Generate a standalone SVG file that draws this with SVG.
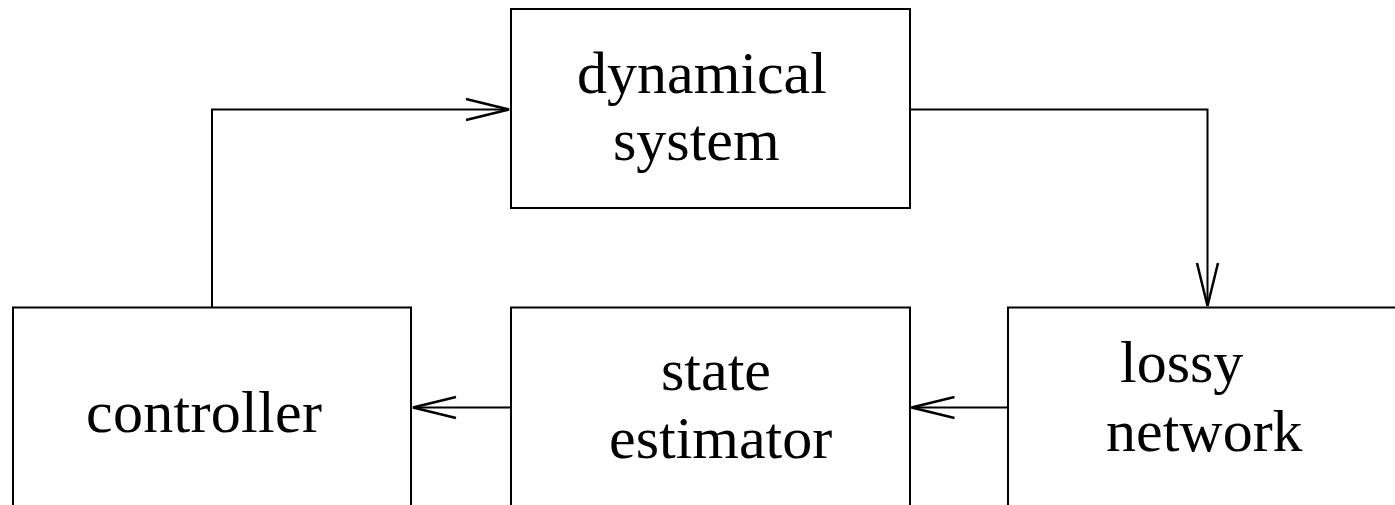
<svg xmlns="http://www.w3.org/2000/svg" width="1395" height="505" viewBox="0 0 1395 505">
<defs>
<style>
.box{fill:#fff;stroke:#000;stroke-width:2}
.conn{fill:none;stroke:#000;stroke-width:2}
.lbl{font-family:"Liberation Serif","Times New Roman",serif;font-size:60px;fill:#000}
</style>
<marker id="arr" markerUnits="userSpaceOnUse" orient="auto" refX="0" refY="0" markerWidth="50" markerHeight="30" overflow="visible">
<path d="M-43,-10.5 L0,0 L-43,10.5" fill="none" stroke="#000" stroke-width="2.5"/>
</marker>
</defs>
<rect width="1395" height="505" fill="#fff"/>
<g id="connectors">
<path class="conn" d="M212,307 V109.5 H509" marker-end="url(#arr)"/>
<path class="conn" d="M910,109.5 H1207.5 V306" marker-end="url(#arr)"/>
<path class="conn" d="M1008,407.5 H911.5" marker-end="url(#arr)"/>
<path class="conn" d="M511,407.5 H413" marker-end="url(#arr)"/>
</g>
<g id="dynamical-system">
<rect class="box" x="511" y="9" width="399" height="199"/>
<text class="lbl" x="577" y="93">dynamical</text>
<text class="lbl" x="613" y="160">system</text>
</g>
<g id="controller">
<rect class="box" x="13" y="307.5" width="398" height="300"/>
<text class="lbl" x="86" y="432" textLength="236">controller</text>
</g>
<g id="state-estimator">
<rect class="box" x="511" y="307.5" width="399" height="300"/>
<text class="lbl" x="661" y="390">state</text>
<text class="lbl" x="609" y="458">estimator</text>
</g>
<g id="lossy-network">
<rect class="box" x="1008" y="307.5" width="400" height="300"/>
<text class="lbl" x="1120" y="382">lossy</text>
<text class="lbl" x="1106" y="451">network</text>
</g>
</svg>
